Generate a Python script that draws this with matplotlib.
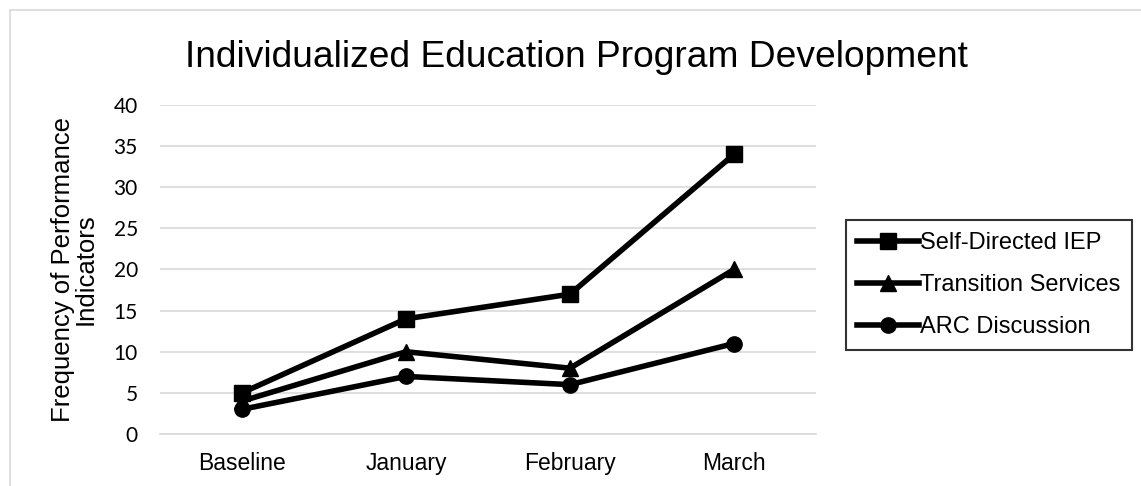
import matplotlib.pyplot as plt
import numpy as np
from matplotlib.lines import Line2D

months = ['Baseline', 'January', 'February', 'March']
self_directed = [5, 14, 17, 34]
transition = [4, 10, 8, 20]
arc = [3, 7, 6, 11]
series_names = ['Self-Directed IEP', 'Transition Services', 'ARC Discussion']

fig = plt.figure(figsize=(11.41, 4.86), dpi=100)
ax = fig.add_axes([160 / 1141, 0.107, 656 / 1141, 0.677])

x = np.arange(len(months))
ax.plot(x, self_directed, color='black', lw=4, marker='s', ms=11, label=series_names[0])
ax.plot(x, transition, color='black', lw=4, marker='^', ms=12, label=series_names[1])
ax.plot(x, arc, color='black', lw=4, marker='o', ms=11, label=series_names[2])

ax.set_xlim(-0.5, 3.5)
ax.set_ylim(0, 40)
ax.set_yticks(range(0, 41, 5))
ax.set_xticks(x)
ax.set_xticklabels(months)
ax.yaxis.grid(True, color='#d9d9d9', lw=1.2)
ax.set_axisbelow(True)
for s in ['top', 'right', 'left']:
    ax.spines[s].set_visible(False)
ax.spines['bottom'].set_color('#d9d9d9')
ax.spines['bottom'].set_linewidth(1.2)
ax.tick_params(length=0, colors='black')
for lbl in ax.get_yticklabels():
    lbl.set_fontfamily('Lato')
    lbl.set_fontsize(15)
for lbl in ax.get_xticklabels():
    lbl.set_fontfamily('Liberation Sans')
    lbl.set_fontsize(16.5)
ax.tick_params(axis='y', pad=16)
ax.tick_params(axis='x', pad=13)

ax.set_ylabel('Frequency of Performance\nIndicators', fontsize=18.5, family='Liberation Sans', linespacing=0.95)
ax.yaxis.set_label_coords(-0.095, 0.5)

fig.text(0.505, 0.882, 'Individualized Education Program Development', ha='center', va='center',
         fontsize=26.7, family='Liberation Sans')

leg = ax.legend(loc='center left', bbox_to_anchor=(1.045, 0.452), frameon=True, fancybox=False,
                edgecolor='black', prop={'family': 'Liberation Sans', 'size': 17},
                handlelength=2.6, handletextpad=0.05, labelspacing=0.85, borderpad=0.5,
                borderaxespad=0.0)
leg.get_frame().set_linewidth(1.5)

# chart frame edges
fig.add_artist(Line2D([10 / 1141, 10 / 1141], [0, 1 - 10 / 486], transform=fig.transFigure, color='#d9d9d9', lw=1.2))
fig.add_artist(Line2D([10 / 1141, 1], [1 - 10 / 486, 1 - 10 / 486], transform=fig.transFigure, color='#d9d9d9', lw=1.2))

fig.savefig('out.png', dpi=100)
